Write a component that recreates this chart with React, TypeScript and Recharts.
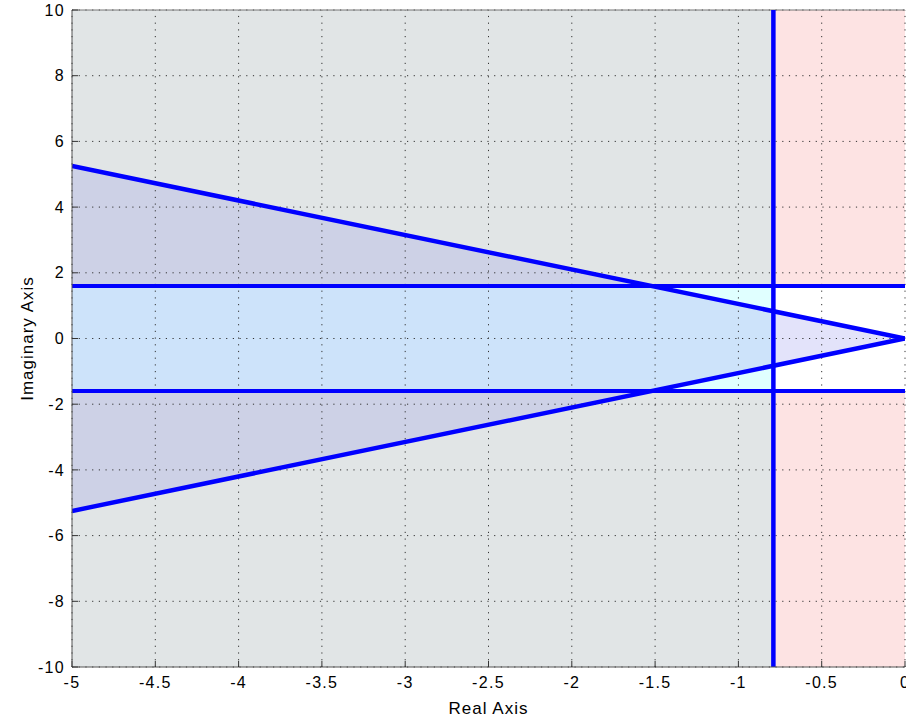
import React from 'react';
import {
  ComposedChart,
  XAxis,
  YAxis,
  Area,
  Line,
  ReferenceArea,
  ReferenceLine,
} from 'recharts';

// ---- data ----
const xTicks = [-5, -4.5, -4, -3.5, -3, -2.5, -2, -1.5, -1, -0.5, 0];
const yTicks = [-10, -8, -6, -4, -2, 0, 2, 4, 6, 8, 10];
const xDomain = [-5, 0];
const yDomain = [-10, 10];

const sigmaBound = -0.79; // vertical constraint line (Re)
const omegaBound = 1.6; // horizontal constraint lines (±Im)

// damping cone edges
const upperEdge = [
  { re: -5, im: 5.25 },
  { re: 0, im: 0 },
];
const lowerEdge = [
  { re: -5, im: -5.25 },
  { re: 0, im: 0 },
];

// shaded cone (range lo..hi)
const coneFull = [
  { re: -5, band: [-5.25, 5.25] },
  { re: 0, band: [0, 0] },
];
// cone ∩ band, left of vertical line
const coneBandLeft = [
  { re: -5, band: [-1.6, 1.6] },
  { re: -1.524, band: [-1.6, 1.6] },
  { re: -0.79, band: [-0.83, 0.83] },
];
// cone ∩ band, right of vertical line
const coneBandRight = [
  { re: -0.79, band: [-0.83, 0.83] },
  { re: 0, band: [0, 0] },
];

const FONT = '"Liberation Sans", Arial, Helvetica, sans-serif';
const BLUE = '#0000FF';
const GRID = '#333333';

export default function App() {
  return (
    <div style={{ position: 'absolute', left: 0, top: 0, background: '#fff' }}>
      <ComposedChart
        width={906}
        height={721}
        margin={{ top: 10, right: 1, bottom: 0, left: 0 }}
        style={{ fontFamily: FONT }}
      >
        <XAxis
          dataKey="re"
          type="number"
          domain={xDomain}
          ticks={xTicks}
          interval={0}
          allowDataOverflow
          height={54}
          tickSize={6}
          tickMargin={4}
          tick={{ fill: '#000', fontSize: 16, fontFamily: FONT, letterSpacing: 1.3 }}
          tickLine={{ stroke: '#333', transform: 'translate(0,-6)' }}
          axisLine={{ stroke: '#555', strokeWidth: 1 }}
          label={{
            value: 'Real Axis',
            position: 'insideBottom',
            offset: 7,
            fill: '#000',
            fontSize: 17,
            fontFamily: FONT,
            style: { letterSpacing: 1 },
          }}
        />
        <YAxis
          type="number"
          domain={yDomain}
          ticks={yTicks}
          interval={0}
          allowDataOverflow
          width={72}
          tickSize={6}
          tickMargin={1}
          tick={{ fill: '#000', fontSize: 16, fontFamily: FONT, letterSpacing: 1.3 }}
          tickLine={{ stroke: '#333', transform: 'translate(6,0)' }}
          axisLine={{ stroke: '#555', strokeWidth: 1 }}
          label={{
            value: 'Imaginary Axis',
            angle: -90,
            position: 'insideLeft',
            offset: 27,
            fill: '#000',
            fontSize: 17,
            fontFamily: FONT,
            style: { textAnchor: 'middle', letterSpacing: 1 },
          }}
        />

        {/* background regions */}
        <ReferenceArea x1={-5} x2={sigmaBound} y1={-10} y2={10} fill="#E1E5E6" fillOpacity={1} stroke="none" ifOverflow="visible" />
        <ReferenceArea x1={sigmaBound} x2={0} y1={-10} y2={10} fill="#FDE3E3" fillOpacity={1} stroke="none" ifOverflow="visible" />
        <ReferenceArea x1={-5} x2={sigmaBound} y1={-omegaBound} y2={omegaBound} fill="#E0FFFF" fillOpacity={1} stroke="none" ifOverflow="visible" />
        <ReferenceArea x1={sigmaBound} x2={0} y1={-omegaBound} y2={omegaBound} fill="#FFFFFF" fillOpacity={1} stroke="none" ifOverflow="visible" />

        {/* cone shading */}
        <Area data={coneFull} dataKey="band" type="linear" fill="#CDD1E6" fillOpacity={1} stroke="none" isAnimationActive={false} dot={false} activeDot={false} />
        <Area data={coneBandLeft} dataKey="band" type="linear" fill="#CDE3FA" fillOpacity={1} stroke="none" isAnimationActive={false} dot={false} activeDot={false} />
        <Area data={coneBandRight} dataKey="band" type="linear" fill="#E3E3FA" fillOpacity={1} stroke="none" isAnimationActive={false} dot={false} activeDot={false} />

        {/* grid */}
        {xTicks.map((t) => (
          <ReferenceLine key={'gx' + t} x={t} stroke={GRID} strokeWidth={1} strokeDasharray="1.2 5.5" ifOverflow="visible" />
        ))}
        {yTicks.map((t) => (
          <ReferenceLine key={'gy' + t} y={t} stroke={GRID} strokeWidth={1} strokeDasharray="1.2 5.5" ifOverflow="visible" />
        ))}
        <ReferenceLine y={10} stroke="#777" strokeWidth={1} ifOverflow="visible" />

        {/* constraint lines */}
        <ReferenceLine x={sigmaBound} stroke={BLUE} strokeWidth={4.5} ifOverflow="visible" />
        <ReferenceLine y={omegaBound} stroke={BLUE} strokeWidth={4} ifOverflow="visible" />
        <ReferenceLine y={-omegaBound} stroke={BLUE} strokeWidth={4} ifOverflow="visible" />
        <Line data={upperEdge} dataKey="im" type="linear" stroke={BLUE} strokeWidth={4.5} dot={false} activeDot={false} isAnimationActive={false} />
        <Line data={lowerEdge} dataKey="im" type="linear" stroke={BLUE} strokeWidth={4.5} dot={false} activeDot={false} isAnimationActive={false} />
      </ComposedChart>
    </div>
  );
}
